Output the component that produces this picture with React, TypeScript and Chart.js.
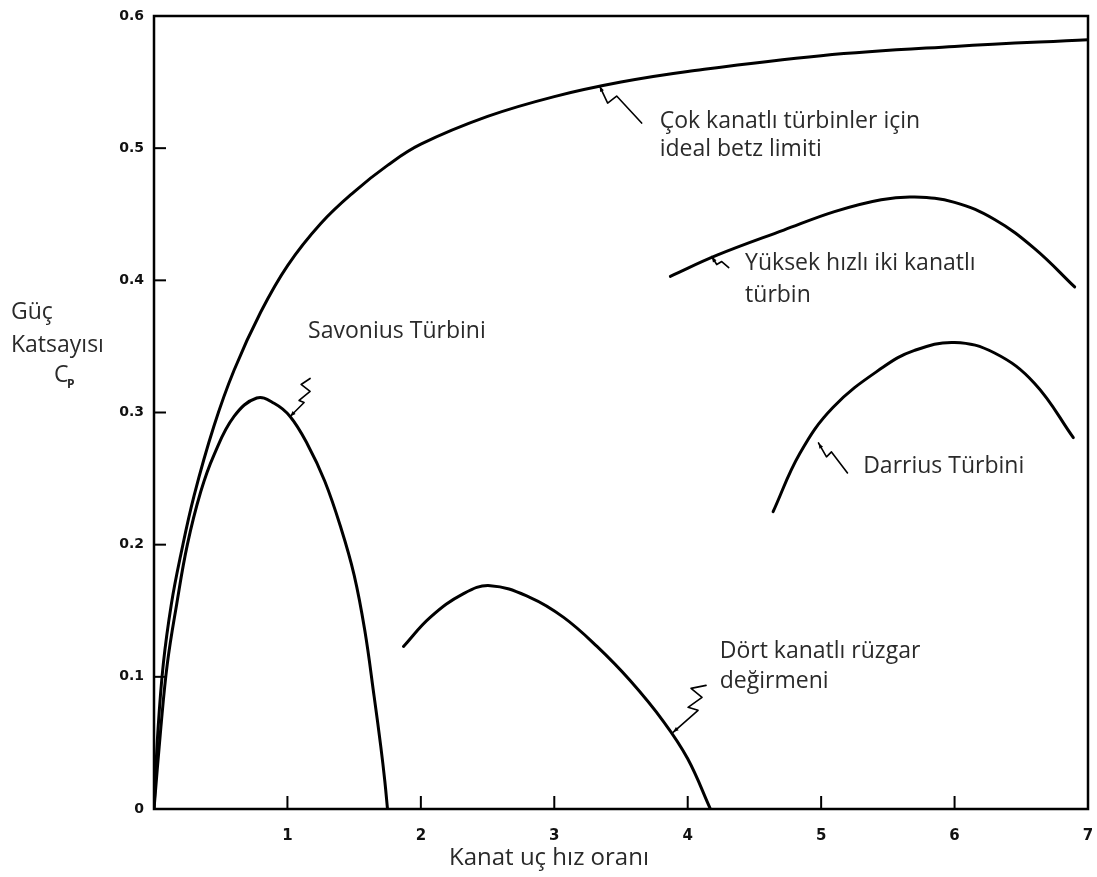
import React, { useEffect, useRef } from "react";
import { Chart, registerables } from "chart.js";

Chart.register(...registerables);

// ---- data ----
const xTickValues = [1, 2, 3, 4, 5, 6];
const yTickValues = [0.1, 0.2, 0.3, 0.4, 0.5];

const betzX = [0, 0.03, 0.07, 0.13, 0.2, 0.3, 0.45, 0.6, 0.8, 1.0, 1.25, 1.5, 1.75, 2.0, 2.5, 3.0, 3.5, 4.0, 5.0, 6.0, 7.0];
const betzY = [0, 0.06, 0.11, 0.155, 0.192, 0.237, 0.29, 0.332, 0.376, 0.411, 0.443, 0.467, 0.487, 0.503, 0.524, 0.539, 0.55, 0.558, 0.57, 0.577, 0.582];

const savoniusX = [0, 0.05, 0.1, 0.17, 0.25, 0.35, 0.45, 0.6, 0.77, 0.9, 1.02, 1.15, 1.28, 1.4, 1.5, 1.58, 1.65, 1.7, 1.73, 1.75];
const savoniusY = [0, 0.06, 0.11, 0.155, 0.2, 0.24, 0.268, 0.297, 0.311, 0.307, 0.297, 0.276, 0.248, 0.213, 0.177, 0.135, 0.085, 0.047, 0.021, 0];

const fourBladeX = [1.87, 2.07, 2.32, 2.52, 2.82, 3.07, 3.32, 3.57, 3.82, 4.0, 4.17];
const fourBladeY = [0.123, 0.145, 0.163, 0.169, 0.16, 0.145, 0.123, 0.097, 0.066, 0.038, 0];

const twoBladeX = [3.87, 4.22, 4.72, 5.1, 5.45, 5.7, 6.0, 6.3, 6.6, 6.9];
const twoBladeY = [0.403, 0.419, 0.438, 0.452, 0.461, 0.463, 0.459, 0.446, 0.424, 0.395];

const darriusX = [4.64, 4.84, 5.09, 5.46, 5.7, 6.0, 6.3, 6.6, 6.89];
const darriusY = [0.225, 0.269, 0.304, 0.334, 0.347, 0.353, 0.345, 0.322, 0.281];

const seriesNames = ["Betz limiti", "Savonius Türbini", "Dört kanatlı rüzgar değirmeni", "Yüksek hızlı iki kanatlı türbin", "Darrius Türbini"];

const xTitle = "Kanat uç hız oranı";
const yTitleLines = ["Güç", "Katsayısı"];

// curve labels: first line anchored at data coordinates
const labelLines = [
  ["Çok kanatlı türbinler için", "ideal betz limiti"],
  ["Yüksek hızlı iki kanatlı", "türbin"],
  ["Savonius Türbini"],
  ["Darrius Türbini"],
  ["Dört kanatlı rüzgar", "değirmeni"],
];
const labelX = [3.79, 4.43, 1.155, 5.315, 4.24];
const labelY = [0.52, 0.413, 0.361, 0.259, 0.119];
const labelGap = [28, 32, 30, 30, 30];

// squiggle arrow tips (data coordinates) and shapes (pixel offsets)
const arrowTipX = [3.34, 4.18, 1.02, 4.98, 3.89];
const arrowTipY = [0.547, 0.418, 0.297, 0.277, 0.058];
const arrowShapes: number[][][] = [
  [[0, 0], [8, 17], [17, 10], [42, 37]],
  [[0, 0], [5, 8], [10, 5], [17, 11]],
  [[0, 0], [14, -14], [9, -16], [20, -25], [11, -32], [20, -38]],
  [[0, 0], [8, 14], [13, 9], [29, 30]],
  [[0, 0], [25, -22], [15, -25], [29, -35], [18, -44], [33, -47]],
];

const toPts = (xs: number[], ys: number[]) => xs.map((x, i) => ({ x, y: ys[i] }));

const LABEL_FONT = "23px 'Open Sans'";

const decorPlugin = {
  id: "decor",
  afterDraw(chart: any) {
    const { ctx, chartArea: a, scales } = chart;
    const xs = scales.x;
    const ys = scales.y;
    ctx.save();
    ctx.strokeStyle = "#000";
    ctx.lineWidth = 2.5;
    ctx.lineCap = "butt";
    // frame
    ctx.strokeRect(a.left, a.top, a.right - a.left, a.bottom - a.top);
    // inward ticks
    ctx.lineWidth = 2;
    yTickValues.forEach((v) => {
      const py = ys.getPixelForValue(v);
      ctx.beginPath();
      ctx.moveTo(a.left, py);
      ctx.lineTo(a.left + 12, py);
      ctx.stroke();
    });
    xTickValues.forEach((v) => {
      const px = xs.getPixelForValue(v);
      ctx.beginPath();
      ctx.moveTo(px, a.bottom);
      ctx.lineTo(px, a.bottom - 13);
      ctx.stroke();
    });
    // arrows
    ctx.lineWidth = 1.6;
    ctx.lineJoin = "round";
    ctx.lineCap = "round";
    arrowShapes.forEach((shape, i) => {
      const tx = xs.getPixelForValue(arrowTipX[i]);
      const ty = ys.getPixelForValue(arrowTipY[i]);
      ctx.beginPath();
      shape.forEach(([dx, dy], j) => {
        if (j === 0) ctx.moveTo(tx + dx, ty + dy);
        else ctx.lineTo(tx + dx, ty + dy);
      });
      ctx.stroke();
      const [dx1, dy1] = shape[1];
      const ang = Math.atan2(dy1, dx1);
      const hl = 6;
      ctx.beginPath();
      ctx.moveTo(tx, ty);
      ctx.lineTo(tx + hl * Math.cos(ang + 0.35), ty + hl * Math.sin(ang + 0.35));
      ctx.lineTo(tx + hl * Math.cos(ang - 0.35), ty + hl * Math.sin(ang - 0.35));
      ctx.closePath();
      ctx.fillStyle = "#000";
      ctx.fill();
    });
    // labels
    ctx.fillStyle = "#2a2a2a";
    ctx.font = LABEL_FONT;
    ctx.textBaseline = "middle";
    ctx.textAlign = "left";
    labelLines.forEach((lines, i) => {
      const px = xs.getPixelForValue(labelX[i]);
      const py = ys.getPixelForValue(labelY[i]);
      lines.forEach((t, j) => ctx.fillText(t, px, py + j * labelGap[i]));
    });
    // x title
    ctx.textAlign = "center";
    ctx.font = "24px 'Open Sans'";
    ctx.fillText(xTitle, 549, 858);
    // y title
    ctx.font = LABEL_FONT;
    ctx.textAlign = "left";
    ctx.fillText(yTitleLines[0], 11, 312);
    ctx.fillText(yTitleLines[1], 11, 345);
    ctx.fillText("C", 54, 375);
    ctx.font = "bold 12px 'Open Sans'";
    ctx.fillText("P", 67, 385);
    ctx.restore();
  },
};

export default function App() {
  const ref = useRef<HTMLCanvasElement | null>(null);
  useEffect(() => {
    if (!ref.current) return;
    const line = (data: any, label: string) => ({
      label,
      data,
      showLine: true,
      borderColor: "#000",
      borderWidth: 3,
      pointRadius: 0,
      fill: false,
      borderCapStyle: "round",
      tension: 0.4,
    });
    const chart = new Chart(ref.current, {
      type: "scatter",
      data: {
        datasets: [
          line(toPts(betzX, betzY), seriesNames[0]),
          line(toPts(savoniusX, savoniusY), seriesNames[1]),
          line(toPts(fourBladeX, fourBladeY), seriesNames[2]),
          line(toPts(twoBladeX, twoBladeY), seriesNames[3]),
          line(toPts(darriusX, darriusY), seriesNames[4]),
        ],
      },
      options: {
        animation: false,
        responsive: false,
        devicePixelRatio: 1,
        layout: { padding: { left: 0, right: 9, top: 16, bottom: 8 } },
        plugins: { legend: { display: false }, tooltip: { enabled: false } },
        scales: {
          x: {
            type: "linear",
            min: 0,
            max: 7,
            afterFit: (s: any) => { s.height = 60; s.paddingLeft = 0; s.paddingRight = 0; },
            grid: { display: false, drawTicks: false },
            border: { display: false },
            ticks: {
              stepSize: 1,
              padding: 18,
              color: "#111",
              font: { family: "DejaVu Sans", weight: "bold", size: 15 },
              callback: (v: any) => (v === 0 ? "" : String(v)),
            },
          },
          y: {
            type: "linear",
            min: 0,
            max: 0.6,
            afterFit: (s: any) => { s.width = 154; s.paddingTop = 0; s.paddingBottom = 0; },
            grid: { display: false, drawTicks: false },
            border: { display: false },
            ticks: {
              stepSize: 0.1,
              padding: 10,
              color: "#111",
              font: { family: "DejaVu Sans", weight: "bold", size: 14 },
              callback: (v: any) => (v === 0 ? "0" : Number(v).toFixed(1)),
            },
          },
        },
      },
      plugins: [decorPlugin],
    } as any);
    return () => chart.destroy();
  }, []);
  return (
    <div style={{ position: "absolute", left: 0, top: 0, width: 1097, height: 877, background: "#fff" }}>
      <canvas ref={ref} width={1097} height={877} />
    </div>
  );
}
